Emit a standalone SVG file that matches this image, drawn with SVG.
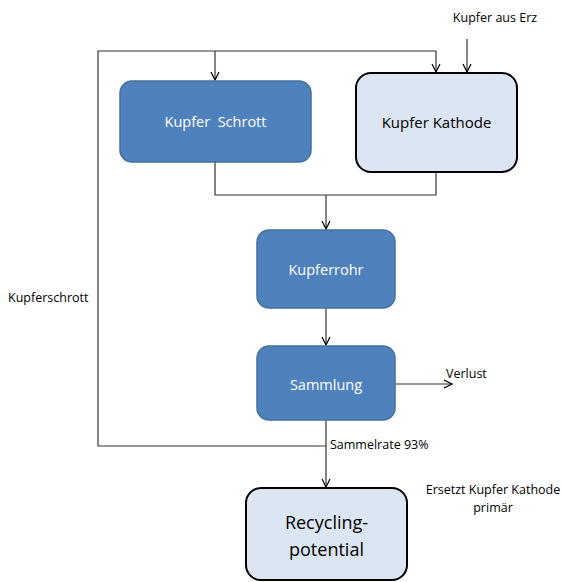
<svg xmlns="http://www.w3.org/2000/svg" width="563" height="582" viewBox="0 0 563 582">
  <defs>
    <marker id="arr" viewBox="0 0 10 10" refX="9" refY="5" markerWidth="10" markerHeight="10" markerUnits="userSpaceOnUse" orient="auto">
      <path d="M1,1 L9,5 L1,9" fill="none" stroke="#000" stroke-width="1.2"/>
    </marker>
  </defs>
  <style>
    .dark rect { fill: #4f81bd; stroke: #41719c; stroke-width: 1.5; }
    .light rect { fill: #dce6f2; stroke: #000; stroke-width: 2; }
    .dark text { fill: #fff; font-family: "Open Sans", "Liberation Sans", sans-serif; font-size: 14.5px; text-anchor: middle; }
    .light text { fill: #000; font-family: "Open Sans", "Liberation Sans", sans-serif; text-anchor: middle; }
    .lbl { fill: #000; font-family: "Open Sans", "Liberation Sans", sans-serif; font-size: 12.5px; }
    #connectors path { fill: none; stroke: #333; stroke-width: 1.2; }
  </style>

  <g id="connectors">
    <!-- recycling loop back to the inputs -->
    <path d="M326,446 H98 V51 H436 V72" marker-end="url(#arr)"/>
    <path d="M215,51 V80" marker-end="url(#arr)"/>
    <path d="M467,39 V72" marker-end="url(#arr)"/>
    <!-- merge into Kupferrohr -->
    <path d="M215,162 V195 H436 V172"/>
    <path d="M326,195 V229" marker-end="url(#arr)"/>
    <path d="M326,308 V345" marker-end="url(#arr)"/>
    <path d="M395,384 H452" marker-end="url(#arr)"/>
    <path d="M326,420 V487" marker-end="url(#arr)"/>
  </g>

  <g id="kupfer-schrott" class="dark">
    <rect x="120" y="81" width="191" height="81" rx="12"/>
    <text x="215.5" y="127" xml:space="preserve">Kupfer  Schrott</text>
  </g>

  <g id="kupfer-kathode" class="light">
    <rect x="356" y="73" width="161" height="99" rx="15"/>
    <text x="436.5" y="128" font-size="15">Kupfer Kathode</text>
  </g>

  <g id="kupferrohr" class="dark">
    <rect x="257" y="230" width="138" height="78" rx="12"/>
    <text x="326" y="275">Kupferrohr</text>
  </g>

  <g id="sammlung" class="dark">
    <rect x="257" y="346" width="138" height="74" rx="12"/>
    <text x="326" y="390">Sammlung</text>
  </g>

  <g id="recycling" class="light">
    <rect x="246" y="488" width="161" height="92" rx="15"/>
    <text x="326.5" y="529" font-size="18">Recycling-</text>
    <text x="326.5" y="556" font-size="18">potential</text>
  </g>

  <g id="labels">
    <text class="lbl" x="495" y="22" text-anchor="middle">Kupfer aus Erz</text>
    <text class="lbl" x="8" y="302">Kupferschrott</text>
    <text class="lbl" x="446" y="378">Verlust</text>
    <text class="lbl" x="330" y="449">Sammelrate 93%</text>
    <text class="lbl" x="493" y="494" text-anchor="middle">Ersetzt Kupfer Kathode</text>
    <text class="lbl" x="493" y="512" text-anchor="middle">primär</text>
  </g>
</svg>
